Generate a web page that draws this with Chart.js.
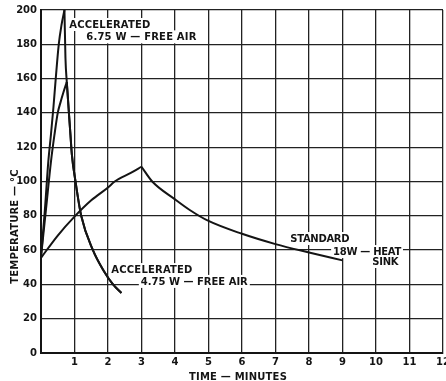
<!DOCTYPE html>
<html>
<head>
<meta charset="utf-8">
<script src="https://cdn.jsdelivr.net/npm/chart.js@4/dist/chart.umd.min.js"></script>
<style>
html,body{margin:0;padding:0;background:#fff;overflow:hidden}
#wrap{position:relative;width:446px;height:381px}
</style>
</head>
<body>
<div id="wrap"><canvas id="c" width="446" height="381"></canvas></div>
<script>
// ---- Data ----
// Accelerated 6.75 W - free air
const accel675RiseMinutes = [0, 0.11, 0.22, 0.30, 0.37, 0.44, 0.53, 0.61, 0.70];
const accel675RiseTemps   = [56, 82, 112, 128, 143, 160, 180, 191, 200];
const accel675FallMinutes = [0.70, 0.73, 0.77, 0.88, 0.92, 1.03, 1.20, 1.55, 1.87, 2.15, 2.40];
const accel675FallTemps   = [200, 172, 158, 127, 116, 100, 80, 60, 48, 40, 35];
// Accelerated 4.75 W - free air
const accel475RiseMinutes = [0, 0.15, 0.30, 0.40, 0.50, 0.58, 0.67, 0.77];
const accel475RiseTemps   = [56, 84, 112, 127, 140, 146, 152, 158];
const accel475FallMinutes = [0.77, 0.88, 0.92, 1.03, 1.20, 1.55, 1.87, 2.15, 2.40];
const accel475FallTemps   = [158, 127, 116, 100, 80, 60, 48, 40, 35];
// Standard 18 W - heat sink
const standardRiseMinutes = [0, 0.5, 1, 1.5, 2, 2.2, 2.68, 3];
const standardRiseTemps   = [55.5, 68.5, 79.5, 89, 96.5, 100, 105, 108.6];
const standardFallMinutes = [3, 3.32, 4, 4.44, 5, 6, 7, 8, 9];
const standardFallTemps   = [108.6, 100, 89.6, 83.4, 77, 69.5, 63.5, 58.6, 54];

// Tick labels
const minuteLabels = ['', '1', '2', '3', '4', '5', '6', '7', '8', '9', '10', '11', '12'];
const tempLabels   = ['0', '20', '40', '60', '80', '100', '120', '140', '160', '180', '200'];

// Text
const xTitle = 'TIME — MINUTES';
const yTitle = 'TEMPERATURE — °C';
const notes = [
  {x: 0.845, y: 189.5, text: 'ACCELERATED', spacing: 0.2},
  {x: 1.35,  y: 182.3, text: '6.75 W — FREE AIR', spacing: 0.2},
  {x: 2.10,  y: 46.6,  text: 'ACCELERATED', spacing: 0.2},
  {x: 2.98,  y: 39.7,  text: '4.75 W — FREE AIR', spacing: 0},
  {x: 7.44,  y: 64.7,  text: 'STANDARD', spacing: -0.3},
  {x: 8.72,  y: 57.1,  text: '18W — HEAT', spacing: -0.3},
  {x: 9.89,  y: 51.3,  text: 'SINK', spacing: -0.3}
];

const INK = '#141414';
const FONT = '"DejaVu Sans", "Liberation Sans", sans-serif';

function pts(xs, ys) { return xs.map((x, i) => ({x: x, y: ys[i]})); }
function curve(label, xs, ys) {
  return {
    label: label,
    data: pts(xs, ys),
    borderColor: INK,
    borderWidth: 2,
    pointRadius: 0,
    fill: false,
    cubicInterpolationMode: 'monotone'
  };
}

const notesPlugin = {
  id: 'notes',
  beforeDatasetsDraw(chart) {
    const ctx = chart.ctx;
    const xs = chart.scales.x, ys = chart.scales.y;
    ctx.save();
    ctx.font = 'bold 10px ' + FONT;
    ctx.textBaseline = 'alphabetic';
    ctx.textAlign = 'left';
    notes.forEach(n => {
      ctx.letterSpacing = n.spacing + 'px';
      const px = xs.getPixelForValue(n.x);
      const py = ys.getPixelForValue(n.y);
      const w = ctx.measureText(n.text).width;
      ctx.fillStyle = '#fff';
      ctx.fillRect(px - 2, py - 10, w + 4, 13);
    });
    ctx.fillStyle = INK;
    notes.forEach(n => {
      ctx.letterSpacing = n.spacing + 'px';
      const px = xs.getPixelForValue(n.x);
      const py = ys.getPixelForValue(n.y);
      ctx.fillText(n.text, px, py);
    });
    ctx.restore();
  },
  afterDraw(chart) {
    const ctx = chart.ctx;
    const a = chart.chartArea;
    ctx.save();
    ctx.font = 'bold 10px ' + FONT;
    ctx.letterSpacing = '0.2px';
    ctx.fillStyle = INK;
    ctx.textAlign = 'center';
    ctx.textBaseline = 'alphabetic';
    ctx.fillText(xTitle, (a.left + a.right) / 2 - 4, 380);
    ctx.translate(18, (a.top + a.bottom) / 2 + 45);
    ctx.rotate(-Math.PI / 2);
    ctx.fillText(yTitle, 0, 0);
    ctx.restore();
  }
};

new Chart(document.getElementById('c'), {
  type: 'line',
  data: {
    datasets: [
      curve('Accelerated 6.75 W rise', accel675RiseMinutes, accel675RiseTemps),
      curve('Accelerated 6.75 W fall', accel675FallMinutes, accel675FallTemps),
      curve('Accelerated 4.75 W rise', accel475RiseMinutes, accel475RiseTemps),
      curve('Accelerated 4.75 W fall', accel475FallMinutes, accel475FallTemps),
      curve('Standard 18 W rise', standardRiseMinutes, standardRiseTemps),
      curve('Standard 18 W fall', standardFallMinutes, standardFallTemps)
    ]
  },
  options: {
    responsive: false,
    animation: false,
    devicePixelRatio: 1,
    layout: {padding: {top: 10, right: 3, left: 0, bottom: 0}},
    plugins: {legend: {display: false}, tooltip: {enabled: false}, title: {display: false}},
    scales: {
      x: {
        type: 'linear', min: 0, max: 12,
        ticks: {
          stepSize: 1, autoSkip: false, maxRotation: 0, padding: 3,
          color: INK, font: {family: FONT, size: 10, weight: 'bold'},
          callback: (v, i) => minuteLabels[i]
        },
        grid: {color: '#222', lineWidth: 1.3, drawTicks: false},
        border: {color: INK, width: 2},
        afterFit(s) { s.height = 28; s.paddingLeft = 0; s.paddingRight = 0; }
      },
      y: {
        min: 0, max: 200,
        ticks: {
          stepSize: 20, padding: 4,
          color: INK, font: {family: FONT, size: 10, weight: 'bold'},
          callback: (v, i) => tempLabels[i]
        },
        grid: {color: '#222', lineWidth: 1.3, drawTicks: false},
        border: {color: INK, width: 2},
        afterFit(s) { s.width = 41; s.paddingTop = 0; s.paddingBottom = 0; }
      }
    }
  },
  plugins: [notesPlugin]
});
</script>
</body>
</html>
